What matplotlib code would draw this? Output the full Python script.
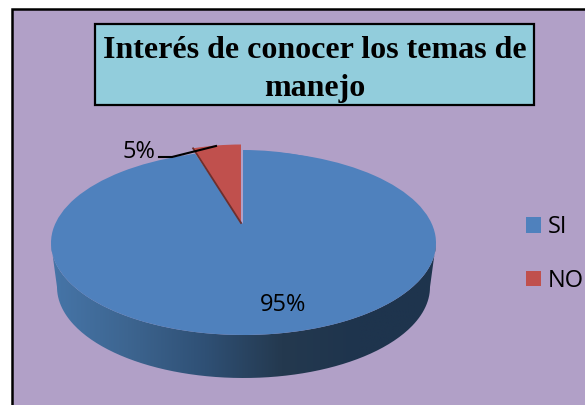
import numpy as np
import matplotlib
matplotlib.use('Agg')
import matplotlib.pyplot as plt
from matplotlib.colors import LinearSegmentedColormap
from matplotlib.patches import Patch, PathPatch, Rectangle
from matplotlib.path import Path
from matplotlib.transforms import Affine2D

# Data
categories = ['SI', 'NO']
values = [95, 5]
title = 'Interés de conocer los temas de\nmanejo'

colors = ['#4f81bd', '#c0504d']
side_colors = ['#4675a8', '#3d6590', '#2f5075', '#24394f', '#1e344d', '#1e344d']

fig = plt.figure(figsize=(5.85, 4.05), dpi=100)
fig.patch.set_facecolor('white')
ax = fig.add_axes([0, 0, 1, 1])


def pie_face(vals, cols, cx, cy, rx, ry):
    # pie circle squashed into an ellipse, y flipped because the axes run downwards
    wedges, _ = ax.pie(vals, colors=cols, startangle=90, counterclock=False,
                       center=(cx, cy), radius=rx, wedgeprops={'linewidth': 0})
    squash = Affine2D().translate(-cx, -cy).scale(1, -ry / rx).translate(cx, cy)
    for w in wedges:
        w.set_transform(squash + ax.transData)
        w.set_zorder(3)
    return wedges


# frame and title box
ax.add_patch(Rectangle((12, 9), 590, 420, facecolor='#b1a0c7', edgecolor='black', linewidth=1.8, zorder=0))
ax.add_patch(Rectangle((95, 24), 439, 81, facecolor='#92cddc', edgecolor='black', linewidth=1.6, zorder=1))
ax.text(314.5, 69.5, title, ha='center', va='center', family='Liberation Serif', weight='bold',
        fontsize=23, linespacing=1.38, color='black', zorder=6)

# side of the disc
t = np.linspace(np.pi, 0, 200)
top_x = 243.5 + 192.5 * np.cos(t)
top_y = 243 + 92 * np.sin(t)
low_x = 243.5 + 186.5 * np.cos(t[::-1])
low_y = 287 + 91 * np.sin(t[::-1])
side = np.column_stack([np.r_[top_x, low_x], np.r_[top_y, low_y]])
side_patch = PathPatch(Path(side), facecolor='none', edgecolor='none')
ax.add_patch(side_patch)
cmap = LinearSegmentedColormap.from_list('side', side_colors)
im = ax.imshow(np.linspace(0, 1, 256).reshape(1, -1), cmap=cmap, aspect='auto',
               extent=(51, 436, 380, 243), zorder=2)
im.set_clip_path(side_patch)

# top face, the second blue pie closes the notch up to the real apex
pie_face(values, [colors[0], 'none'], 243.5, 243, 192.5, 92)
pie_face(values, [colors[0], 'none'], 243.0, 224, 155, 74)

# exploded slice
red_cx, red_cy, red_rx, red_ry = 241, 223, 155, 78.5
red = pie_face(values, ['none', colors[1]], red_cx, red_cy, red_rx, red_ry)
red[1].set_zorder(4)
ang = 2 * np.pi * values[1] / sum(values)
ax.plot([red_cx, red_cx - red_rx * np.sin(ang)], [red_cy, red_cy - red_ry * np.cos(ang)],
        color='#6e2f2d', lw=1.3, zorder=4)

# labels
ax.text(283, 305, f'{values[0]}%', ha='center', va='center', family='Open Sans', fontsize=17, zorder=6)
ax.text(138.5, 152, f'{values[1]}%', ha='center', va='center', family='Open Sans', fontsize=17, zorder=6)
ax.plot([159, 172, 216], [157, 157, 146], color='black', lw=1.5, zorder=5)

# legend
handles = [Patch(facecolor=c, edgecolor='none') for c in colors]
leg = ax.legend(handles, categories, loc='upper left', bbox_to_anchor=(516.6, 206),
                bbox_transform=ax.transData, frameon=False, prop={'family': 'Open Sans', 'size': 17},
                handlelength=0.635, handleheight=0.635, handletextpad=0.3, labelspacing=1.25,
                borderpad=0, borderaxespad=0.4)
leg.set_zorder(6)

ax.set_aspect('auto')
ax.set_xlim(0, 585)
ax.set_ylim(405, 0)
ax.axis('off')

fig.savefig('out.png', dpi=100)
